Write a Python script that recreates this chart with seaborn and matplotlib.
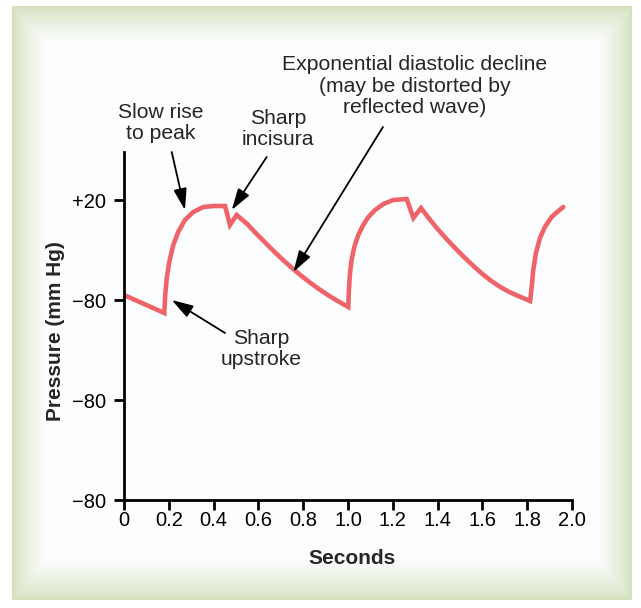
import numpy as np
import matplotlib
matplotlib.use("Agg")
import matplotlib.pyplot as plt
import seaborn as sns

# Aortic pressure trace (time in s, height in chart units:
# tick "+20" sits at 300, the three "-80" ticks at 200, 100 and 0)
time_s = [0.000, 0.180, 0.184, 0.191, 0.202, 0.220, 0.242, 0.272, 0.309, 0.354,
          0.399, 0.451, 0.473, 0.503,
          0.550, 0.590, 0.630, 0.670, 0.710, 0.750, 0.790, 0.830, 0.870, 0.910,
          0.950, 1.001,
          1.004, 1.009, 1.016, 1.028, 1.046, 1.068, 1.091, 1.121, 1.158, 1.202,
          1.262, 1.292, 1.326,
          1.360, 1.400, 1.440, 1.480, 1.520, 1.560, 1.600, 1.640, 1.680, 1.720,
          1.760, 1.813,
          1.820, 1.827, 1.839, 1.857, 1.879, 1.909, 1.939, 1.961]
pressure = [205, 187, 205, 222, 238, 255, 268, 280, 288, 293,
            294, 294, 275, 285,
            276, 266.5, 257.5, 248.5, 240, 232, 224.5, 217.5, 211, 205,
            199.5, 193,
            210, 227, 240, 253, 265, 275, 283, 290, 296, 300,
            301, 282, 292,
            282, 271, 261, 251.5, 242.5, 234, 226, 219, 213, 208,
            204, 199,
            213, 230, 247, 262, 273, 283, 289, 293]

ytick_pos = [0, 100, 200, 300]
ytick_labels = ["\u221280", "\u221280", "\u221280", "+20"]
xticks = [0, 0.2, 0.4, 0.6, 0.8, 1.0, 1.2, 1.4, 1.6, 1.8, 2.0]
xtick_labels = ["0", "0.2", "0.4", "0.6", "0.8", "1.0", "1.2", "1.4", "1.6", "1.8", "2.0"]

sns.set_style("white")
plt.rcParams["font.family"] = ["Liberation Sans", "DejaVu Sans"]

fig = plt.figure(figsize=(6.41, 6.08), dpi=100)
fig.patch.set_facecolor("white")

# soft green frame around the panel
W, H = 620, 594
xx, yy = np.meshgrid(np.arange(W), np.arange(H))
d = np.minimum.reduce([xx / 34.0, (W - 1 - xx) / 34.0, yy / 36.0, (H - 1 - yy) / 40.0])
t = np.clip(d, 0, 1) ** 0.8
edge = np.array([212, 224, 188]) / 255.0
inner = np.array([252, 253, 255]) / 255.0
grad = edge[None, None, :] * (1 - t[..., None]) + inner[None, None, :] * t[..., None]
bg = fig.add_axes([12 / 641, 8 / 608, W / 641, H / 608])
bg.imshow(grad, aspect="auto")
bg.axis("off")

ax = fig.add_axes([124 / 641, 108 / 608, 448 / 641, 348 / 608])
ax.set_facecolor("none")
sns.lineplot(x=time_s, y=pressure, ax=ax, color="#ee6469", lw=3.3,
             sort=False, estimator=None)
ax.lines[0].set_solid_joinstyle("miter")

ax.set_xlim(0, 2.0)
ax.set_ylim(0, 348)
ax.set_xticks(xticks)
ax.set_xticklabels(xtick_labels)
ax.set_yticks(ytick_pos)
ax.set_yticklabels(ytick_labels)
for s in ["top", "right"]:
    ax.spines[s].set_visible(False)
for s in ["left", "bottom"]:
    ax.spines[s].set_linewidth(2)
    ax.spines[s].set_color("black")
ax.tick_params(bottom=True, left=True, direction="out", length=7, width=2,
               labelsize=14.5, color="black", labelcolor="black")
ax.tick_params(axis="x", pad=1)
ax.tick_params(axis="y", pad=6)

ax.set_xlabel("Seconds", fontsize=15, fontweight="bold")
ax.set_ylabel("Pressure (mm Hg)", fontsize=15, fontweight="bold")
ax.xaxis.set_label_coords(0.51, -0.142)
ax.yaxis.set_label_coords(-0.131, 0.486)

arrow = dict(arrowstyle="-|>,head_length=0.65,head_width=0.2", color="black",
             lw=1.3, mutation_scale=20, shrinkA=0, shrinkB=0)
txt = dict(ha="center", va="center", fontsize=15.2, linespacing=1.15)

ax.annotate("", xy=(0.272, 290), xytext=(0.213, 348), arrowprops=arrow)
ax.text(0.165, 377, "Slow rise\nto peak", **txt)

ax.annotate("", xy=(0.481, 290), xytext=(0.637, 343), arrowprops=arrow)
ax.text(0.6875, 371, "Sharp\nincisura", **txt)

ax.annotate("", xy=(0.756, 228), xytext=(1.156, 373), arrowprops=arrow)
ax.text(1.299, 414, "Exponential diastolic decline\n(may be distorted by\nreflected wave)", **txt)

ax.annotate("", xy=(0.213, 200), xytext=(0.451, 167), arrowprops=arrow)
ax.text(0.612, 151, "Sharp\nupstroke", **txt)

# check that the tick marks really came out
fig.canvas.draw()
buf = np.asarray(fig.canvas.buffer_rgba())[:, :, :3].astype(float).mean(axis=2)
xt = int(buf[502:509, 165:173].min())
yt = int(buf[296:304, 113:121].min())
if xt > 100 or yt > 100:
    fig.text(0.02, 0.97, "NO TICKS x=%d y=%d" % (xt, yt), color="red", fontsize=10, va="top")

fig.savefig("out.png", dpi=100)
